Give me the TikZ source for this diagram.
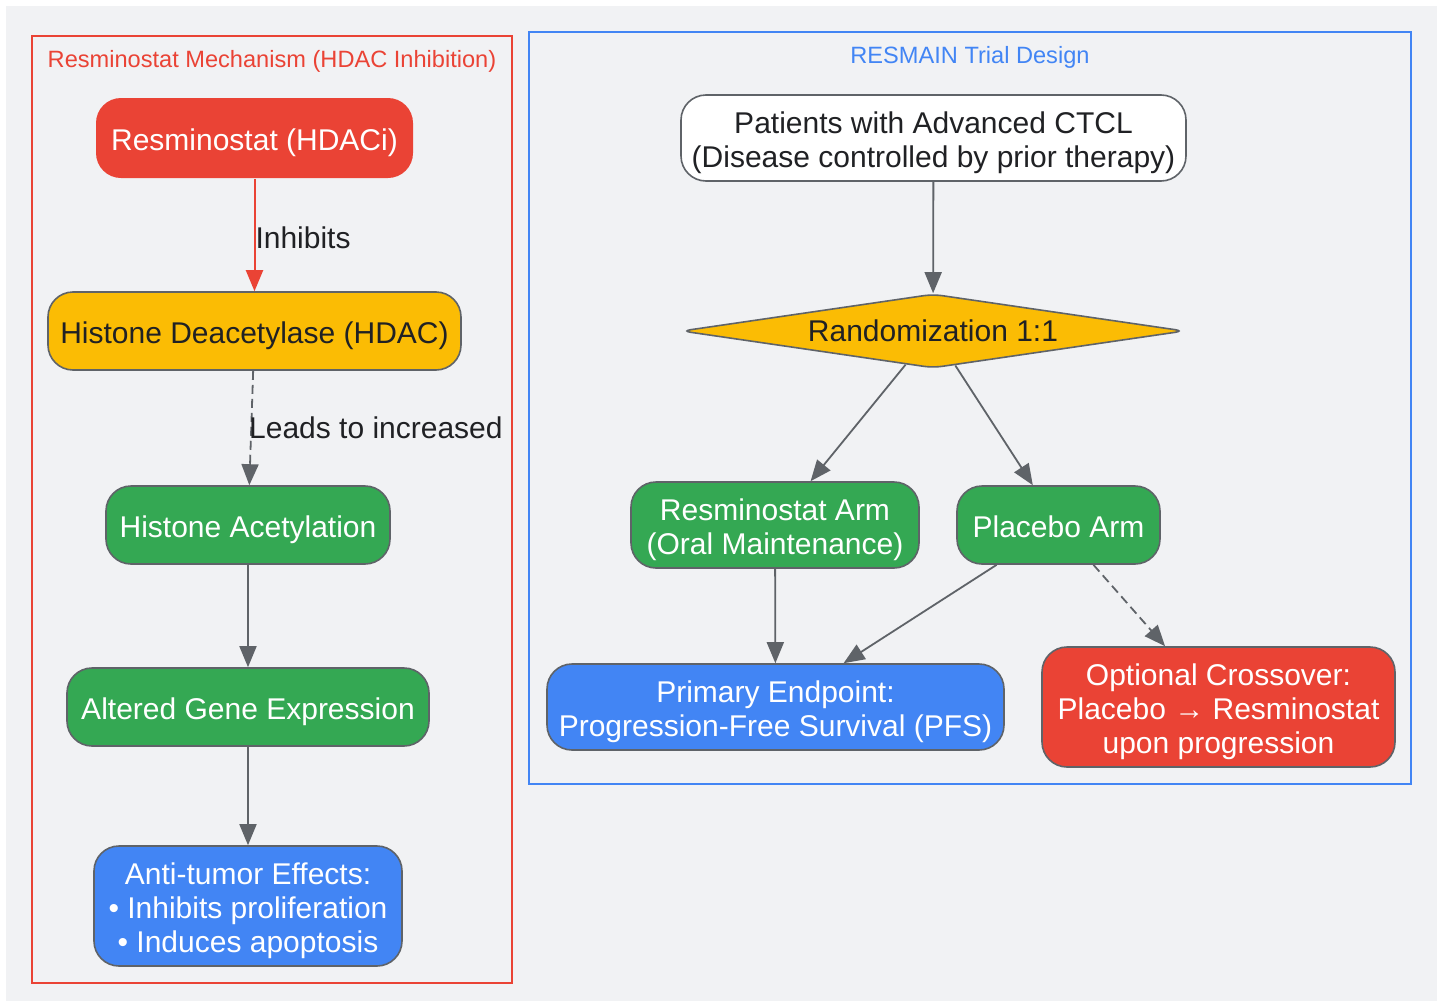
\documentclass[tikz,border=0pt]{standalone}
\usepackage{fontspec}
\setmainfont{Liberation Sans}
\usetikzlibrary{arrows.meta,shapes.geometric}
\definecolor{gred}{HTML}{EA4335}
\definecolor{gyellow}{HTML}{FBBC04}
\definecolor{ggreen}{HTML}{34A853}
\definecolor{gblue}{HTML}{4285F4}
\definecolor{gstroke}{HTML}{5F6368}
\definecolor{gbg}{HTML}{F1F2F4}
\definecolor{gtext}{HTML}{202124}
\newcommand{\lstrut}{\rule[-6.4pt]{0pt}{33.5pt}}
\newcommand{\fstrut}{\rule[-6.4pt]{0pt}{38.5pt}}
\begin{document}
\begin{tikzpicture}[x=1pt,y=-1pt,
  box/.style={rounded corners=25pt, draw=gstroke, line width=1.6pt, inner sep=0pt, align=center,
     font=\fontsize{30}{34}\selectfont},
  redbox/.style={box, fill=gred, text=white},
  yellowbox/.style={box, fill=gyellow, text=gtext},
  greenbox/.style={box, fill=ggreen, text=white},
  bluebox/.style={box, fill=gblue, text=white},
  whitebox/.style={box, fill=white, text=gtext},
  conn/.style={draw=gstroke, line width=1.8pt, -{Triangle[length=21pt,width=17pt]}},
  dconn/.style={conn, dash pattern=on 9pt off 5pt},
  elabel/.style={anchor=west, inner sep=0pt, text=gtext, font=\fontsize{30}{34}\selectfont},
  ctitle/.style={font=\fontsize{23.6}{28}\selectfont, inner sep=0pt, yshift=-2pt}
]
\useasboundingbox (0,0) rectangle (1443,1001);
\fill[white] (0,0) rectangle (1443,1001);
\fill[gbg] (6,6) rectangle (1437,1001);

% clusters
\draw[gred, line width=2pt] (32,36) rectangle (512,983);
\node[ctitle, text=gred] (t1) at (272,59) {Resminostat Mechanism (HDAC Inhibition)};
\draw[gblue, line width=2pt] (529,32) rectangle (1411,784);
\node[ctitle, text=gblue] (t2) at (970,55) {RESMAIN Trial Design};

% left nodes
\node[redbox, draw=none, minimum width=317pt, minimum height=80pt] (res) at (254.5,138) {\fstrut Resminostat (HDACi)};
\node[yellowbox, minimum width=413pt, minimum height=78pt] (hdac) at (254.5,331) {\fstrut Histone Deacetylase (HDAC)};
\node[greenbox, minimum width=284pt, minimum height=78pt] (acet) at (248,525) {\fstrut Histone Acetylation};
\node[greenbox, minimum width=362pt, minimum height=78pt] (gene) at (248,707) {\fstrut Altered Gene Expression};
\node[bluebox, minimum width=308pt, minimum height=120pt] (anti) at (248,906) {\fstrut Anti-tumor Effects:\\\lstrut • Inhibits proliferation\\\lstrut • Induces apoptosis};

% right nodes
\node[whitebox, minimum width=505pt, minimum height=86pt] (pat) at (933.5,138) {\fstrut Patients with Advanced CTCL\\\lstrut (Disease controlled by prior therapy)};
\node[diamond, draw=gstroke, line width=1.6pt, fill=gyellow, text=gtext, minimum width=503pt, minimum height=74pt,
      aspect=6.77, inner sep=0pt, rounded corners=9pt, font=\fontsize{30}{34}\selectfont] (rand) at (933,331) {\lstrut Randomization 1:1};
\node[greenbox, minimum width=288pt, minimum height=86pt] (rarm) at (775,525) {\fstrut Resminostat Arm\\\lstrut (Oral Maintenance)};
\node[greenbox, minimum width=203pt, minimum height=78pt] (parm) at (1058.5,525) {\fstrut Placebo Arm};
\node[bluebox, minimum width=457pt, minimum height=86pt] (pfs) at (775.5,707) {\fstrut Primary Endpoint:\\\lstrut Progression-Free Survival (PFS)};
\node[redbox, minimum width=353pt, minimum height=120pt] (cross) at (1218.5,707) {\fstrut Optional Crossover:\\\lstrut Placebo → Resminostat\\\lstrut upon progression};

% left connectors
\draw[conn, draw=gred, line width=2pt] (res) -- node[elabel, pos=0.5, yshift=-3pt] {Inhibits} (hdac);
\draw[dconn] (hdac) -- node[elabel, pos=0.5, xshift=-3pt] {Leads to increased} (acet);
\draw[conn] (acet) -- (gene);
\draw[conn] (gene) -- (anti);

% right connectors
\draw[conn] (pat) -- (rand);
\draw[conn] (rand) -- (rarm);
\draw[conn] (rand) -- (parm);
\draw[conn] (rarm) -- (pfs);
\draw[conn] (parm) -- (pfs);
\draw[dconn] (parm) -- (cross);
\end{tikzpicture}
\end{document}
